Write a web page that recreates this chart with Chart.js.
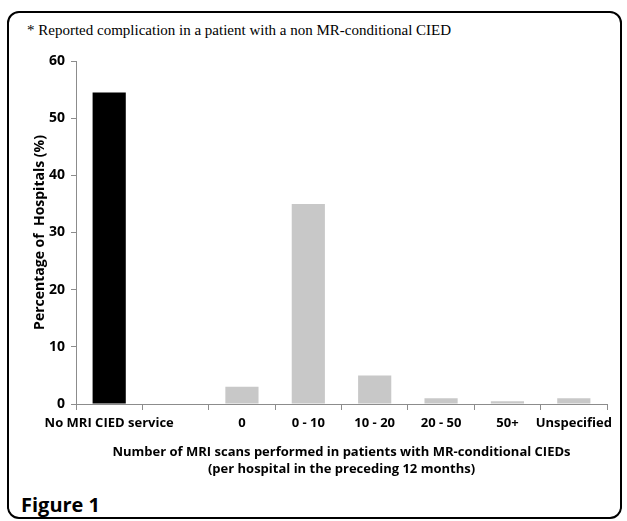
<!DOCTYPE html>
<html lang="en">
<head>
    <meta charset="UTF-8">
    <title>Figure 1</title>
    <script src="https://cdn.jsdelivr.net/npm/chart.js"></script>
    <style>
        body { margin: 0; background: #fff; }
        #frame {
            position: absolute; left: 7px; top: 11px; width: 615px; height: 508px;
            border: 2px solid #000; border-radius: 12px; box-sizing: border-box;
        }
        #note {
            position: absolute; left: 27px; top: 22px;
            font-family: "Liberation Serif", serif; font-size: 15px; color: #000;
        }
        #fig {
            position: absolute; left: 21px; top: 491px;
            font-family: "Open Sans", sans-serif; font-weight: bold; font-size: 20px; color: #000;
        }
        #wrap { position: absolute; left: 8px; top: 45px; width: 612px; height: 440px; }
    </style>
</head>
<body>
    <div id="frame"></div>
    <div id="note">* Reported complication in a patient with a non MR-conditional CIED</div>
    <div id="wrap"><canvas id="chart"></canvas></div>
    <div id="fig">Figure 1</div>

    <script>
        // values
        var categories = ['No MRI CIED service', '', '0', '0 - 10', '10 - 20', '20 - 50', '50+', 'Unspecified'];
        var percentages = [54.5, null, 3, 35, 5, 1, 0.5, 1];
        var barColours = ['#000000', '#c8c8c8', '#c8c8c8', '#c8c8c8', '#c8c8c8', '#c8c8c8', '#c8c8c8', '#c8c8c8'];
        var yTicks = [0, 10, 20, 30, 40, 50, 60];
        var xTitle = ['Number of MRI scans performed in patients with MR-conditional CIEDs',
                      '(per hospital in the preceding 12 months)'];
        var yTitle = 'Percentage of  Hospitals (%)';

        var font = { family: 'Open Sans', weight: 'bold', size: 13 };
        var titleFont = { family: 'Open Sans', weight: 'bold', size: 13, lineHeight: 1.3 };
        var bigFont = { family: 'Open Sans', weight: 'bold', size: 14 };
        var axisGrey = '#8c8c8c';

        var ctx = document.getElementById('chart').getContext('2d');
        var chart = new Chart(ctx, {
            type: 'bar',
            data: {
                labels: categories,
                datasets: [{
                    data: percentages,
                    backgroundColor: barColours,
                    borderWidth: 0,
                    barPercentage: 0.5,
                    categoryPercentage: 1.0
                }]
            },
            options: {
                responsive: true,
                maintainAspectRatio: false,
                animation: false,
                layout: { padding: { top: 16, right: 13, left: 20, bottom: 0 } },
                plugins: { legend: { display: false }, tooltip: { enabled: false } },
                scales: {
                    x: {
                        offset: true,
                        grid: { display: true, offset: true, drawOnChartArea: false, drawTicks: true, tickLength: 6, color: axisGrey },
                        border: { color: axisGrey, width: 1 },
                        ticks: { color: '#000', font: font, maxRotation: 0, autoSkip: false, padding: 5 },
                        title: { display: true, text: xTitle, color: '#000', font: titleFont, padding: { top: 5, bottom: 7 } },
                        afterFit: function(s) { s.height = 81; }
                    },
                    y: {
                        min: 0, max: 60,
                        afterBuildTicks: function(s) { s.ticks = yTicks.map(function(v) { return { value: v }; }); },
                        grid: { display: true, drawOnChartArea: false, drawTicks: true, tickLength: 5, color: axisGrey },
                        border: { color: axisGrey, width: 1 },
                        ticks: { color: '#000', font: bigFont, padding: 6 },
                        title: { display: true, text: yTitle, color: '#000', font: bigFont, padding: { bottom: 2 } },
                        afterFit: function(s) { s.width = 48; }
                    }
                }
            }
        });
    </script>
</body>
</html>
